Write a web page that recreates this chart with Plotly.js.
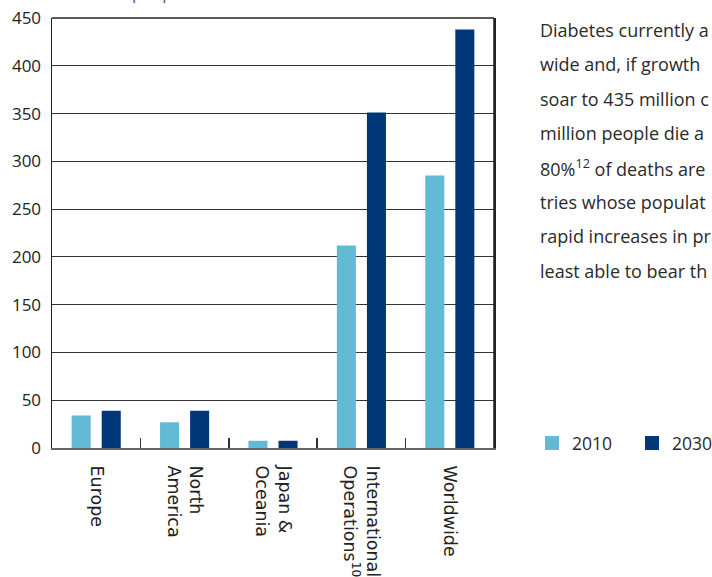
<!DOCTYPE html>
<html>
<head>
<meta charset="utf-8">
<script src="https://cdn.plot.ly/plotly-3.0.1.min.js"></script>
<style>html,body{margin:0;padding:0;background:#fff;overflow:hidden}#chart{width:712px;height:577px}</style>
</head>
<body>
<div id="chart"></div>
<script>
const categories = ["Europe", "North<br>America", "Japan &<br>Oceania", "International<br>Operations<sup>10</sup>", "Worldwide"];
const series2010 = [33, 26, 6.5, 211, 284];
const series2030 = [38, 38, 6.5, 350, 437];
const seriesNames = ["2010", "2030"];
const yTicks = [0, 50, 100, 150, 200, 250, 300, 350, 400, 450];
const paragraphLines = [
  "Diabetes currently a",
  "wide and, if growth",
  "soar to 435 million c",
  "million people die a",
  "80%<sup>12</sup> of deaths are",
  "tries whose populat",
  "rapid increases in pr",
  "least able to bear th"
];
const topTitle = "Millions of people with diabetes";

const c2010 = "#62bad5";
const c2030 = "#003778";

const traces = [
  {type: "bar", name: seriesNames[0], x: categories, y: series2010, legend: "legend",
   marker: {color: c2010, line: {color: c2010, width: 2}}},
  {type: "bar", name: seriesNames[1], x: categories, y: series2030, legend: "legend2",
   marker: {color: c2030, line: {color: c2030, width: 2}}}
];

const W = 712, H = 577, L = 52, R = 218, T = 18, B = 129;
const pw = W - L - R, ph = H - T - B;

const annotations = paragraphLines.map((t, i) => ({
  text: t, xref: "paper", yref: "paper",
  x: (538 - L) / pw, y: 1 - (30 + i * 34.4 - T) / ph,
  xanchor: "left", yanchor: "middle", showarrow: false,
  font: {family: "Open Sans", size: 18, color: "#2a2a2a"}
}));
annotations.push({
  text: topTitle, xref: "paper", yref: "paper",
  x: (44 - L) / pw, y: 1 + 12 / ph, xanchor: "left", yanchor: "bottom",
  showarrow: false, font: {family: "Open Sans", size: 17, color: "#555"}
});

const legendBase = {orientation: "h", xanchor: "left", y: 1 - (443 - T) / ph, yanchor: "middle",
  font: {family: "Open Sans", size: 17.5, color: "#2a2a2a"}, itemwidth: 30, bgcolor: "rgba(0,0,0,0)"};

const layout = {
  width: W, height: H,
  margin: {l: L, r: R, t: T, b: B, pad: 0, autoexpand: false},
  paper_bgcolor: "#fff", plot_bgcolor: "#fff",
  barmode: "group", bargap: 0.32, bargroupgap: 0.433,
  showlegend: true,
  legend: Object.assign({}, legendBase, {x: (532 - L) / pw}),
  legend2: Object.assign({}, legendBase, {x: (632 - L) / pw}),
  xaxis: {
    type: "category", tickangle: 90, tickson: "boundaries", ticks: "inside", ticklen: 10, tickwidth: 1.5, tickcolor: "#333",
    showline: true, linecolor: "#666", linewidth: 2, mirror: false, showgrid: false,
    tickfont: {family: "DejaVu Sans", size: 17.5, color: "#222"}, ticklabelstandoff: 12, automargin: false
  },
  yaxis: {
    range: [0, 450], tickvals: yTicks, ticktext: yTicks.map(String), showgrid: true, gridcolor: "#333", gridwidth: 1.2,
    showline: true, linecolor: "#222", linewidth: 1.5, mirror: true, ticks: "", zeroline: false,
    tickfont: {family: "Open Sans", size: 17, color: "#222"}, ticklabelstandoff: 6, automargin: false
  },
  shapes: [
    {type: "line", xref: "paper", yref: "paper", x0: 1, x1: 1, y0: 0, y1: 1, line: {color: "#222", width: 1.5}},
    {type: "line", xref: "paper", yref: "paper", x0: 0, x1: 1, y0: 1, y1: 1, line: {color: "#222", width: 1.5}}
  ],
  annotations: annotations
};

Plotly.newPlot("chart", traces, layout, {displayModeBar: false, staticPlot: true});
</script>
</body>
</html>
